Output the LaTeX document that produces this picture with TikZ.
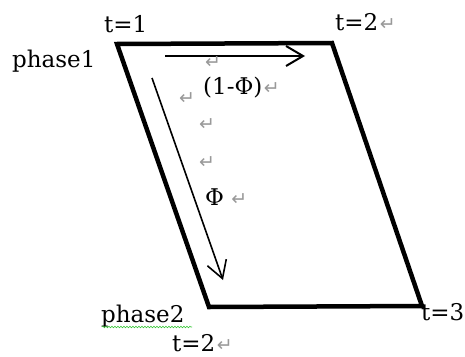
\documentclass[tikz,border=0pt]{standalone}
\usepackage{fontspec}
\setmainfont{DejaVu Serif}
\newfontfamily\retfont{DejaVu Sans}
\usetikzlibrary{arrows.meta,decorations.pathmorphing}
\newcommand{\ret}{{\retfont\fontsize{19}{19}\selectfont\color{gray!80}\char"21B5}}

\begin{document}
\begin{tikzpicture}[x=1pt,y=-1pt,>={Straight Barb[length=17pt,width=20pt]},
    font=\fontsize{23}{27}\selectfont,
    lbl/.style={anchor=base west,inner sep=0pt},
    retmark/.style={inner sep=0pt},
    retafter/.style={inner sep=0pt,anchor=base west,xshift=1pt}]
  \useasboundingbox (0,0) rectangle (465,356);
  \clip (0,0) rectangle (465,356);
  \coordinate (p1) at (117,44);
  \coordinate (p2) at (332,43);
  \coordinate (p3) at (422,306);
  \coordinate (p4) at (209,307);
  \draw[line width=4.5pt] (p1) -- (p2) -- (p3) -- (p4) -- cycle;
  % flows
  \coordinate (a1) at (165,56);
  \coordinate (a2) at (305,56);
  \coordinate (b1) at (152,78);
  \coordinate (b2) at (223,280);
  \draw[line width=2pt,->] (a1) -- (a2);
  \draw[line width=1.6pt,->] (b1) -- (b2);
  % labels
  \node[lbl] (t1) at (104,32) {t=1};
  \node[lbl] (t2) at (335,30) {t=2};
  \node[lbl] (t3) at (421,320) {t=3};
  \node[lbl] (t2b) at (172,351) {t=2};
  \node[lbl] (ph1) at (12,67) {phase1};
  \node[lbl] (ph2) at (101,322) {phase2};
  \node[lbl] (omphi) at (203,94) {(1-Φ)};
  \node[lbl] (phi) at (205,205) {Φ};
  \draw[green!55!gray,line width=0.6pt,decorate,
        decoration={snake,amplitude=0.8pt,segment length=3pt}]
        (102,327) -- (192,327);
  % paragraph marks
  \foreach \n in {t2,omphi,t2b}
    \node[retafter] at (\n.base east) {\ret};
  \node[retafter,xshift=6pt] at (phi.base east) {\ret};
  \foreach \x/\y in {213/63,187/99,207/125,207/163}
    \node[retmark] at (\x,\y) {\ret};
\end{tikzpicture}
\end{document}
